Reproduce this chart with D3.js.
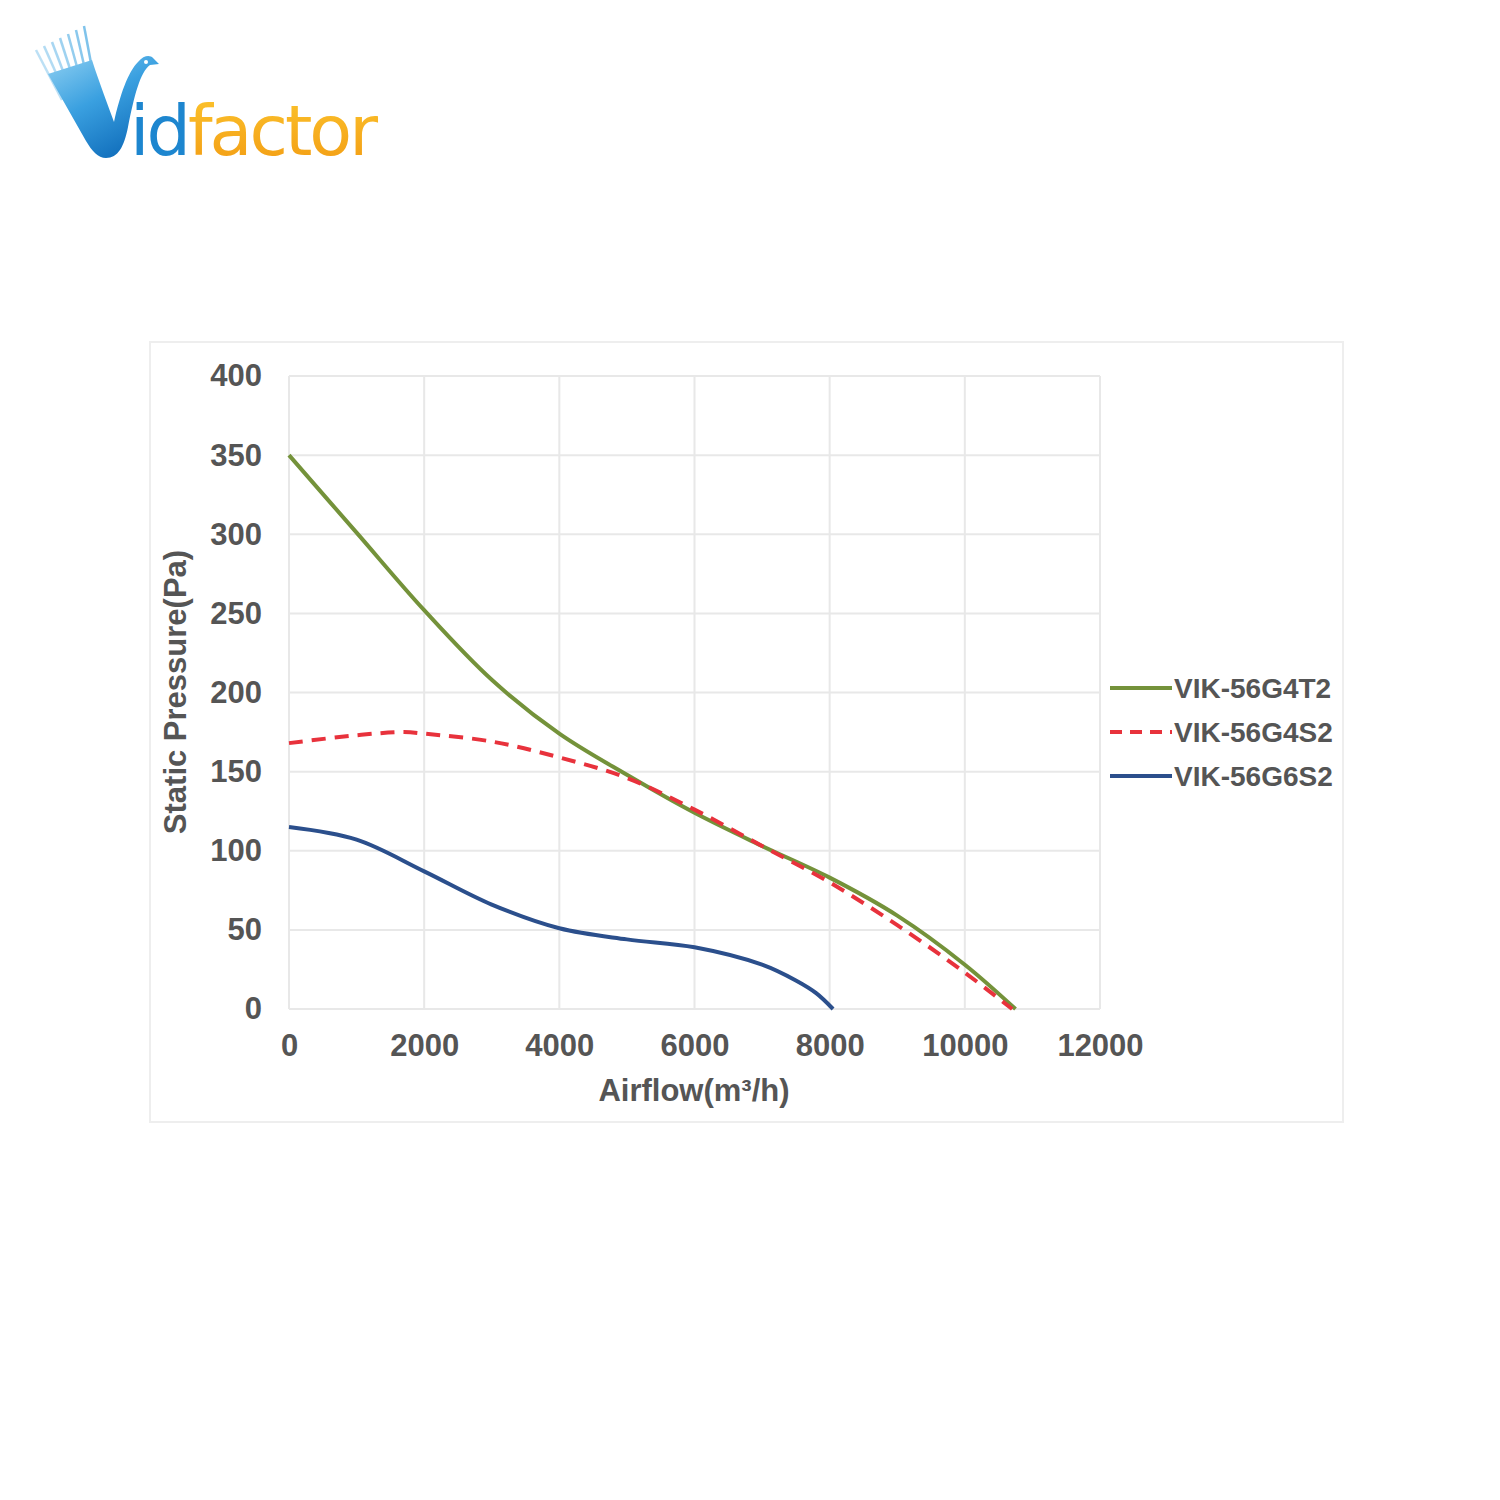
<!DOCTYPE html>
<html>
<head>
<meta charset="utf-8">
<script src="https://cdn.jsdelivr.net/npm/d3@7"></script>
<style>
  body { margin: 0; background: #fff; }
  svg text { font-family: "Liberation Sans", Arial, sans-serif; }
</style>
</head>
<body>
<div id="chart"></div>
<script>
// fan curves (airflow m3/h, static pressure Pa)
const airflowT2 = [0, 1000, 2000, 3000, 4000, 5000, 6000, 7000, 8000, 9000, 10000, 10750];
const pressureT2 = [350, 301, 252, 208, 174, 148, 124, 103, 83, 59, 28, 0];

const airflowS2 = [0, 1000, 1700, 2000, 3000, 4000, 5000, 6000, 7000, 8000, 9000, 10000, 10700];
const pressureS2 = [168, 173, 175, 174, 169, 159, 146, 126, 103, 80, 53, 23, 0];

const airflow6S2 = [0, 1000, 2000, 3000, 4000, 5000, 6000, 7000, 7500, 7800, 8050];
const pressure6S2 = [115, 107, 87, 66, 51, 44, 39, 28, 18, 10, 0];

const seriesNames = ["VIK-56G4T2", "VIK-56G4S2", "VIK-56G6S2"];
const seriesColors = ["#74923a", "#e8323c", "#2b4f8c"];
const xTicks = [0, 2000, 4000, 6000, 8000, 10000, 12000];
const yTicks = [0, 50, 100, 150, 200, 250, 300, 350, 400];

const series = [
  { name: seriesNames[0], color: seriesColors[0], dash: null, pts: airflowT2.map((x, i) => [x, pressureT2[i]]) },
  { name: seriesNames[1], color: seriesColors[1], dash: "14,9", pts: airflowS2.map((x, i) => [x, pressureS2[i]]) },
  { name: seriesNames[2], color: seriesColors[2], dash: null, pts: airflow6S2.map((x, i) => [x, pressure6S2[i]]) }
];

const svg = d3.select("#chart").append("svg")
  .attr("width", 1500)
  .attr("height", 1500);

// ---- logo ----
const defs = svg.append("defs");
const blue = defs.append("linearGradient").attr("id", "blueG")
  .attr("x1", "0").attr("y1", "0").attr("x2", "0.6").attr("y2", "1");
blue.append("stop").attr("offset", "0").attr("stop-color", "#8fd0f2");
blue.append("stop").attr("offset", "0.5").attr("stop-color", "#3aa0e0");
blue.append("stop").attr("offset", "1").attr("stop-color", "#1270bd");
const orange = defs.append("linearGradient").attr("id", "orangeG")
  .attr("x1", "0").attr("y1", "0").attr("x2", "0").attr("y2", "1");
orange.append("stop").attr("offset", "0").attr("stop-color", "#fcc52e");
orange.append("stop").attr("offset", "1").attr("stop-color", "#f29a12");

const logo = svg.append("g");
// feather strokes
d3.range(7).forEach(i => {
  logo.append("line")
    .attr("x1", 36 + i * 8).attr("y1", 50 - i * 4)
    .attr("x2", 62 + i * 6).attr("y2", 100)
    .attr("stroke", "#6dbbe9").attr("stroke-width", 2.5).attr("opacity", 0.45 + i * 0.07);
});
logo.append("path")
  .attr("d", "M48,74 L92,60 C100,85 108,105 114,122 C120,95 128,72 138,62 C144,55 150,55 153,58 L159,64 L150,65 C140,72 134,97 128,127 C124,147 118,158 106,158 C98,158 92,151 86,141 Z")
  .attr("fill", "url(#blueG)");
logo.append("circle").attr("cx", 146).attr("cy", 62).attr("r", 2).attr("fill", "#fff");
logo.append("text")
  .attr("x", 130).attr("y", 155)
  .style("font-family", "'DejaVu Sans', sans-serif")
  .style("font-size", "70px")
  .style("letter-spacing", "-3px")
  .call(t => {
    t.append("tspan").attr("fill", "#1d86cf").text("id");
    t.append("tspan").attr("fill", "url(#orangeG)").text("factor");
  });

// ---- chart frame ----
svg.append("rect")
  .attr("x", 150).attr("y", 342)
  .attr("width", 1193).attr("height", 780)
  .attr("fill", "none").attr("stroke", "#eeeeee").attr("stroke-width", 2);

const x = d3.scaleLinear().domain([0, 12000]).range([289, 1100]);
const y = d3.scaleLinear().domain([0, 400]).range([1009, 376]);

const grid = svg.append("g");
grid.selectAll(".gx").data(xTicks).enter().append("line")
  .attr("x1", d => x(d)).attr("x2", d => x(d))
  .attr("y1", y(400)).attr("y2", y(0))
  .attr("stroke", "#e8e8e8").attr("stroke-width", 2);
grid.selectAll(".gy").data(yTicks).enter().append("line")
  .attr("x1", x(0)).attr("x2", x(12000))
  .attr("y1", d => y(d)).attr("y2", d => y(d))
  .attr("stroke", "#e8e8e8").attr("stroke-width", 2);

// axes (labels only, lines hidden)
const xAxis = svg.append("g")
  .attr("transform", `translate(0,${y(0)})`)
  .call(d3.axisBottom(x).tickValues(xTicks).tickSize(0).tickPadding(25).tickFormat(d3.format("d")));
const yAxis = svg.append("g")
  .attr("transform", `translate(${x(0)},0)`)
  .call(d3.axisLeft(y).tickValues(yTicks).tickSize(0).tickPadding(27).tickFormat(d3.format("d")));
[xAxis, yAxis].forEach(a => {
  a.select(".domain").remove();
  a.selectAll("text")
    .attr("fill", "#555")
    .style("font-size", "31px")
    .style("font-weight", "bold");
});
xAxis.selectAll("text").attr("dy", "0.71em");

svg.append("text")
  .attr("x", 694).attr("y", 1101)
  .attr("text-anchor", "middle")
  .attr("fill", "#555")
  .style("font-size", "31px").style("font-weight", "bold")
  .text("Airflow(m³/h)");
svg.append("text")
  .attr("transform", "translate(186,692) rotate(-90)")
  .attr("text-anchor", "middle")
  .attr("fill", "#555")
  .style("font-size", "31px").style("font-weight", "bold")
  .text("Static Pressure(Pa)");

// ---- curves ----
const line = d3.line()
  .x(d => x(d[0]))
  .y(d => y(d[1]))
  .curve(d3.curveCatmullRom.alpha(0.5));

svg.append("g").selectAll("path").data(series).enter().append("path")
  .attr("d", d => line(d.pts))
  .attr("fill", "none")
  .attr("stroke", d => d.color)
  .attr("stroke-width", 4)
  .attr("stroke-dasharray", d => d.dash);

// ---- legend ----
const legend = svg.append("g").selectAll("g").data(series).enter().append("g")
  .attr("transform", (d, i) => `translate(1110,${688 + i * 44})`);
legend.append("line")
  .attr("x1", 0).attr("x2", 62)
  .attr("stroke", d => d.color)
  .attr("stroke-width", 4)
  .attr("stroke-dasharray", d => d.dash ? "12,8" : null);
legend.append("text")
  .attr("x", 64).attr("dy", "0.36em")
  .attr("fill", "#555")
  .style("font-size", "28px").style("font-weight", "bold")
  .text(d => d.name);
</script>
</body>
</html>
